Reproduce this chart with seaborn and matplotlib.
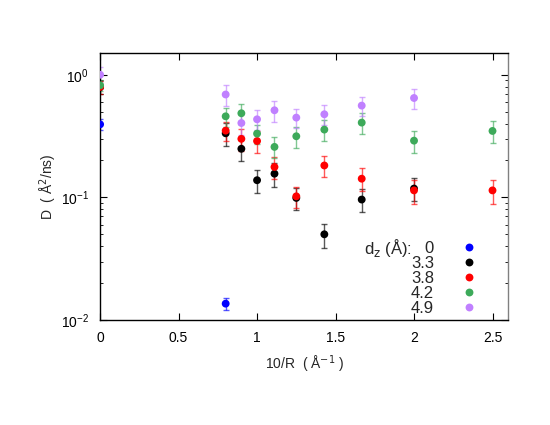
import numpy as np
import pandas as pd
import matplotlib
matplotlib.use("Agg")
import matplotlib.pyplot as plt
import seaborn as sns

# valores (10/R em 1/Angstrom, D em A^2/ns)
dz_labels = ["0", "3.3", "3.8", "4.2", "4.9"]
cores = ["#0000ff", "#000000", "#ff0000", "#3daa5a", "#c080ff"]

x_blue = [0.0, 0.8]
d_blue = [0.394, 0.0136]
e_blue = [0.04, 0.0015]

x_black = [0.0, 0.8, 0.9, 1.0, 1.111, 1.25, 1.4286, 1.6667, 2.0]
d_black = [0.79, 0.333, 0.249, 0.138, 0.156, 0.099, 0.050, 0.096, 0.118]
e_black = [0.10, 0.07, 0.05, 0.03, 0.035, 0.02, 0.011, 0.02, 0.025]

x_red = [0.0, 0.8, 0.9, 1.0, 1.111, 1.25, 1.4286, 1.6667, 2.0, 2.5]
d_red = [0.795, 0.35, 0.30, 0.288, 0.177, 0.102, 0.182, 0.142, 0.114, 0.114]
e_red = [0.10, 0.06, 0.06, 0.06, 0.035, 0.02, 0.035, 0.03, 0.025, 0.025]

x_green = [0.0, 0.8, 0.9, 1.0, 1.111, 1.25, 1.4286, 1.6667, 2.0, 2.5]
d_green = [0.82, 0.458, 0.485, 0.331, 0.258, 0.315, 0.357, 0.407, 0.29, 0.348]
e_green = [0.08, 0.08, 0.09, 0.06, 0.05, 0.06, 0.07, 0.08, 0.06, 0.07]

x_purple = [0.0, 0.8, 0.9, 1.0, 1.111, 1.25, 1.4286, 1.6667, 2.0]
d_purple = [1.0, 0.69, 0.404, 0.433, 0.513, 0.447, 0.476, 0.56, 0.646]
e_purple = [0.15, 0.13, 0.08, 0.08, 0.10, 0.08, 0.09, 0.10, 0.12]

series = [(x_blue, d_blue, e_blue), (x_black, d_black, e_black),
          (x_red, d_red, e_red), (x_green, d_green, e_green),
          (x_purple, d_purple, e_purple)]

frames = []
for lab, (xs, ds, es) in zip(dz_labels, series):
    frames.append(pd.DataFrame({"x": xs, "D": ds, "err": es, "dz": lab}))
df = pd.concat(frames, ignore_index=True)

sns.set_theme(style="ticks")
plt.rcParams["font.family"] = ["Liberation Sans", "DejaVu Sans"]
plt.rcParams["font.size"] = 10

fig, ax = plt.subplots(figsize=(5.5, 4.25), dpi=100)
fig.subplots_adjust(left=0.182, right=0.924, bottom=0.247, top=0.875)

# barras de erro primeiro, pontos por cima
for lab, cor in zip(dz_labels, cores):
    sub = df[df["dz"] == lab]
    ax.errorbar(sub["x"], sub["D"], yerr=sub["err"], fmt="none", ecolor=cor,
                alpha=0.65, elinewidth=1.0, capsize=2.5, capthick=1.0, zorder=2)

sns.scatterplot(data=df, x="x", y="D", hue="dz", hue_order=dz_labels,
                palette=cores, s=32, linewidth=0, ax=ax, zorder=3)

ax.set_yscale("log")
ax.set_xlim(0, 2.6)
ax.set_ylim(0.01, 1.5)
ax.set_xticks([0, 0.5, 1, 1.5, 2, 2.5])
ax.set_xticklabels(["0", "0.5", "1", "1.5", "2", "2.5"])
ax.tick_params(which="both", direction="in", top=True, right=True,
               labelsize=10, colors="black")
ax.tick_params(which="major", length=5, width=0.8, pad=8)
ax.tick_params(which="minor", length=2.5, width=0.6)
for s in ax.spines.values():
    s.set_linewidth(1.0)
    s.set_color("black")
ax.spines["right"].set_color("#808080")

ax.set_xlabel("10/R  ( Å$^{-1}$ )", fontsize=10, labelpad=6)
ax.set_ylabel("D  ( Å$^{2}$/ns)", fontsize=10, labelpad=1)

leg = ax.legend(loc="center", bbox_to_anchor=(0.853, 0.157), frameon=False,
                markerfirst=False, labelspacing=0.0, handletextpad=1.1,
                handlelength=2.0, fontsize=12, borderpad=0)
ax.text(0.763, 0.27, r"d$_\mathrm{z}$ (Å):", transform=ax.transAxes, ha="right",
        va="center", fontsize=12)

fig.savefig("out.png", dpi=100)
